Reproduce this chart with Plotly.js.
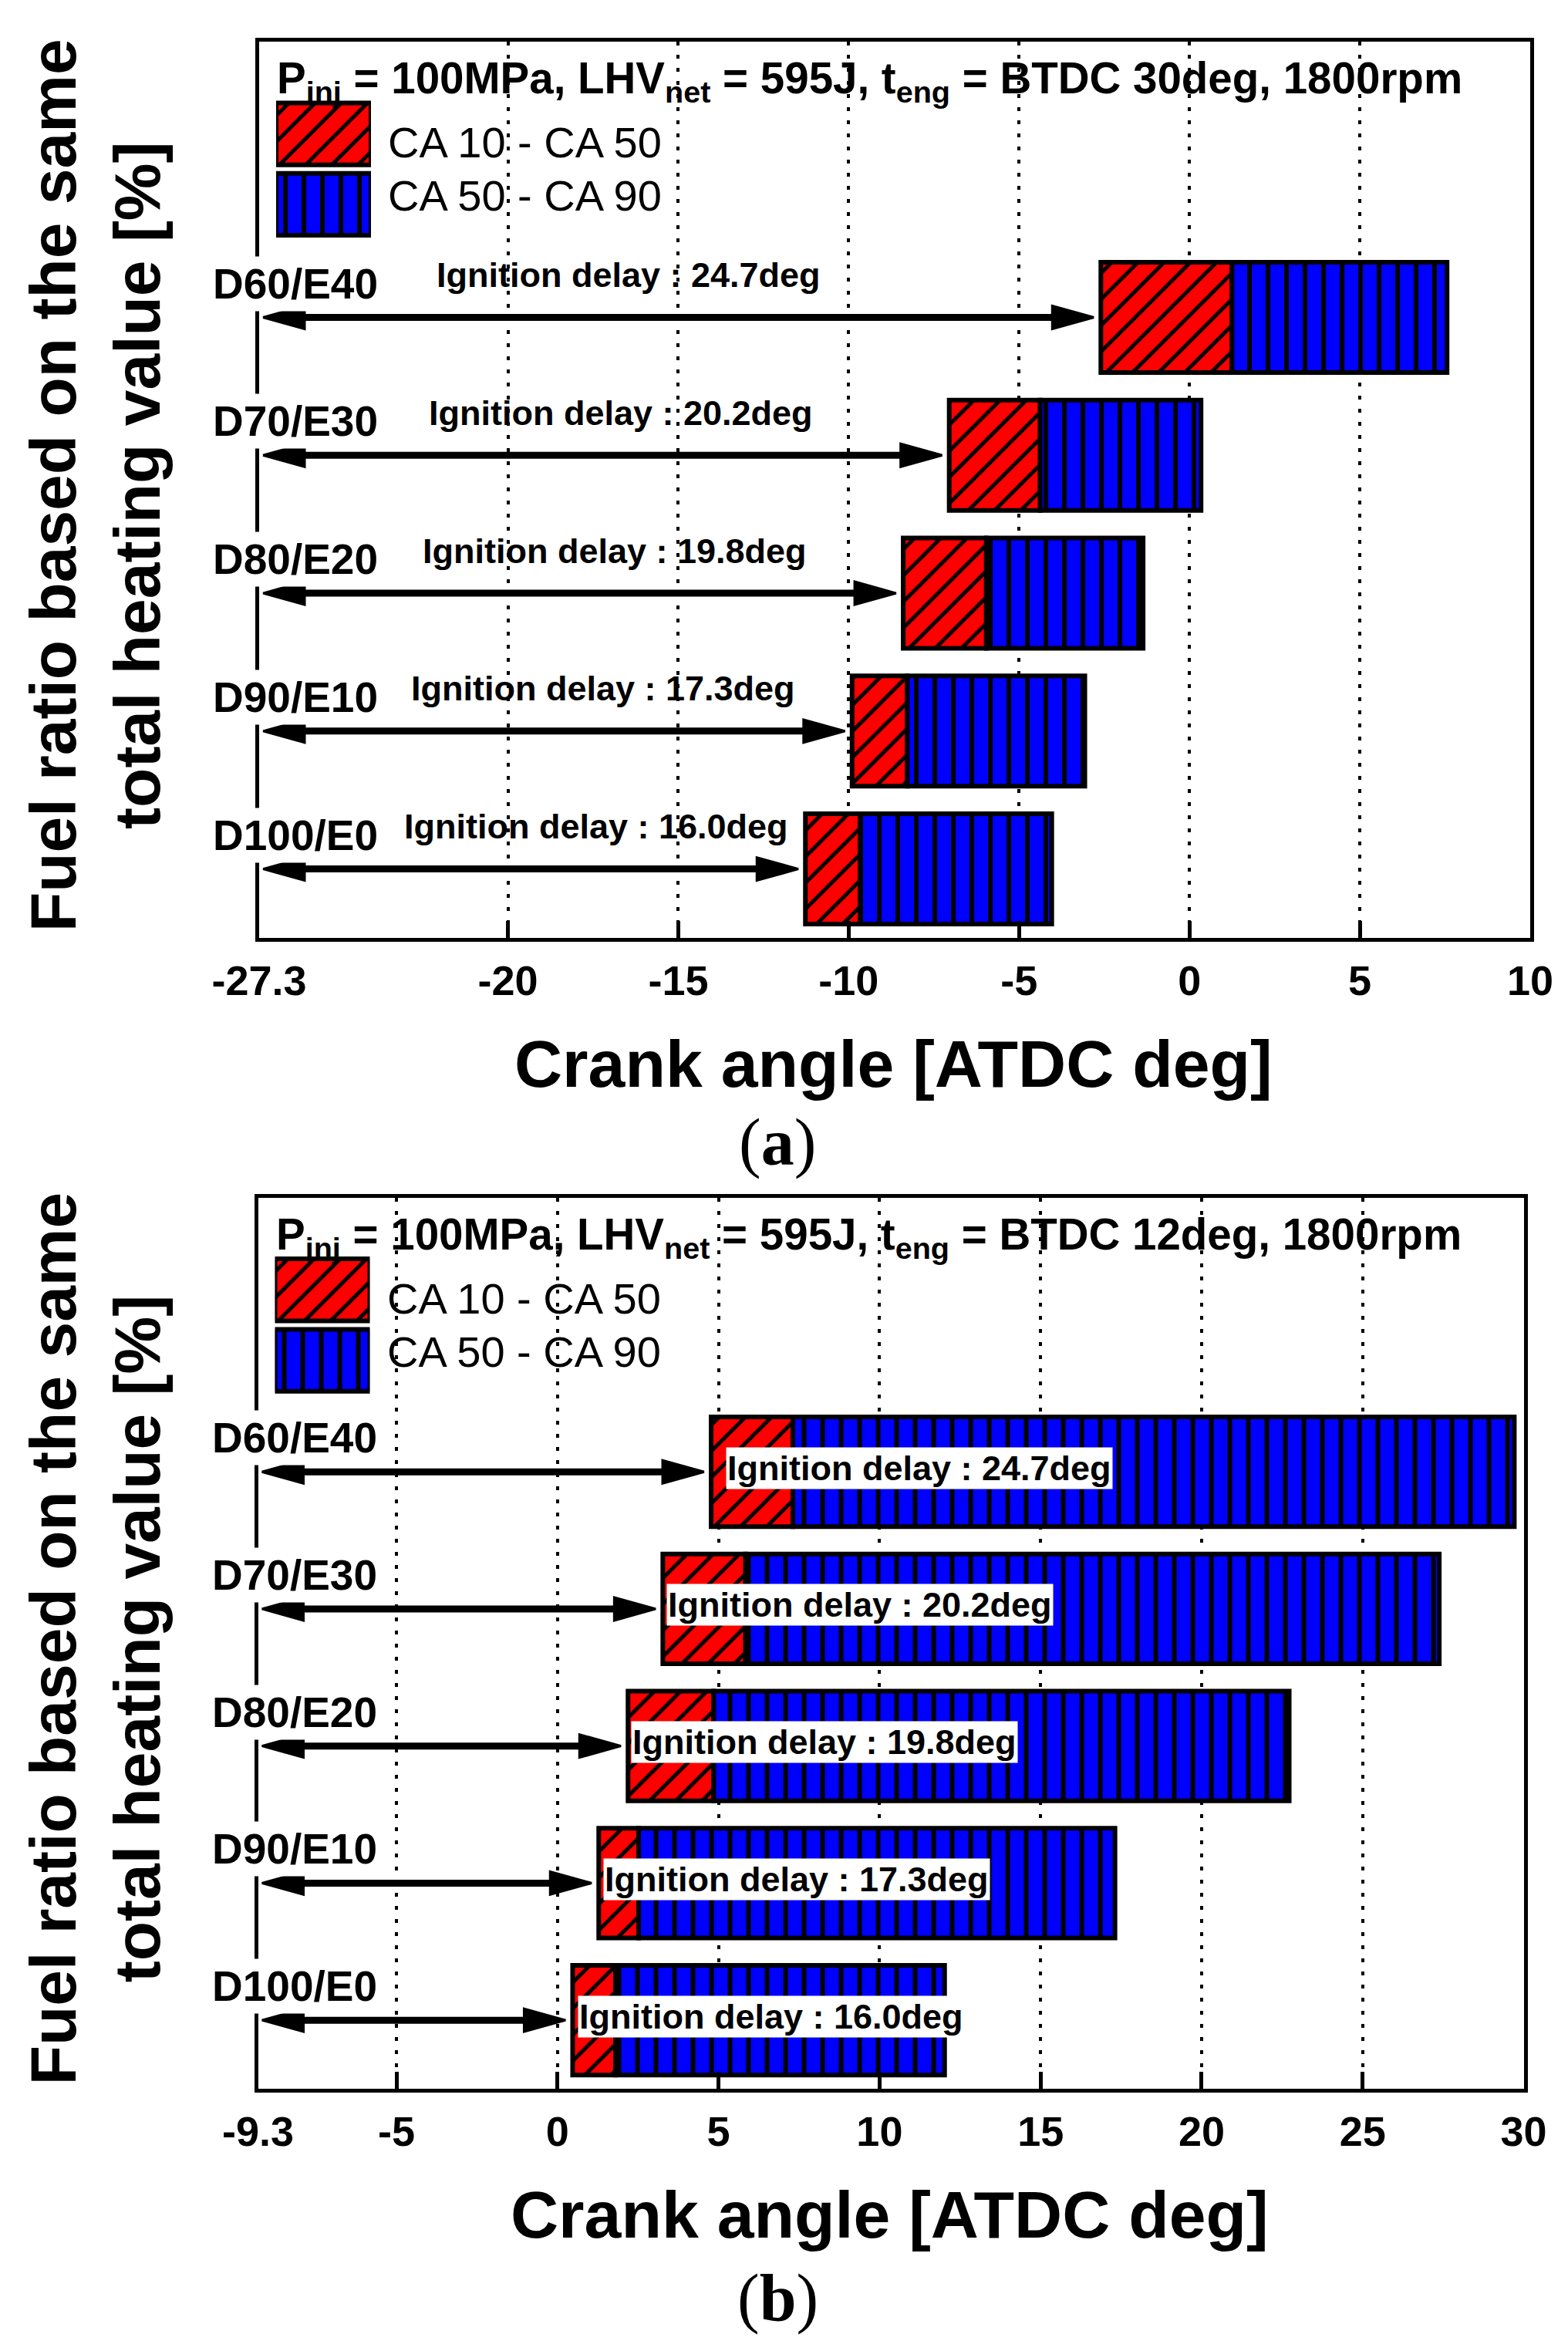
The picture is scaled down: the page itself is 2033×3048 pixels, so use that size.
<!DOCTYPE html>
<html><head><meta charset="utf-8">
<script src="https://cdn.plot.ly/plotly-3.0.1.min.js"></script>
<style>html,body{margin:0;padding:0;background:#fff}</style>
</head><body>
<div id="chart" style="width:2033px;height:3048px"></div>
<script>
// ---------------- data ----------------
const categories = ['D100/E0', 'D90/E10', 'D80/E20', 'D70/E30', 'D60/E40'];
const delayLabels = ['Ignition delay : 16.0deg', 'Ignition delay : 17.3deg', 'Ignition delay : 19.8deg',
                     'Ignition delay : 20.2deg', 'Ignition delay : 24.7deg'];
const legendNames = ['CA 10 - CA 50', 'CA 50 - CA 90'];

// panel (a): t_eng = BTDC 30deg  (crank angle, ATDC deg)
const aCA10 = [-11.27, -9.90, -8.40, -7.05, -2.60];
const aCA50 = [-9.66, -8.28, -5.96, -4.38, 1.25];
const aCA90 = [-4.04, -3.07, -1.36, 0.34, 7.56];
// panel (b): t_eng = BTDC 12deg
const bCA10 = [0.47, 1.28, 2.19, 3.27, 4.77];
const bCA50 = [1.80, 2.52, 4.85, 5.84, 7.31];
const bCA90 = [12.02, 17.31, 22.72, 27.38, 29.71];

const aTickVals = [-27.3, -20, -15, -10, -5, 0, 5, 10];
const aTickText = ['-27.3', '-20', '-15', '-10', '-5', '0', '5', '10'];
const bTickVals = [-9.3, -5, 0, 5, 10, 15, 20, 25, 30];
const bTickText = ['-9.3', '-5', '0', '5', '10', '15', '20', '25', '30'];

const aHeader = 'P<sub>inj</sub> = 100MPa, LHV<sub>net</sub> = 595J, t<sub>eng</sub> = BTDC 30deg, 1800rpm';
const bHeader = 'P<sub>inj</sub> = 100MPa, LHV<sub>net</sub> = 595J, t<sub>eng</sub> = BTDC 12deg, 1800rpm';
const xTitle = 'Crank angle [ATDC deg]';
const yTitle = 'Fuel ratio based on the same<br>total heating value [%]';
const panelTags = ['(<b>a</b>)', '(<b>b</b>)'];

// label placement (layout, in axis units)
const aDelayLabelX = [-17.42, -17.2, -16.87, -16.69, -16.45];
const bDelayLabelX = [0.62, 1.42, 2.29, 3.38, 5.23];

// ---------------- layout geometry (pixels) ----------------
const W = 2033, H = 3048;
const SANS = 'Liberation Sans, Arial, Helvetica, sans-serif';
const SERIF = 'Liberation Serif, Times New Roman, serif';
const RED = '#ff0000', BLUE = '#0000ff';
const panels = [
  {id: '', left: 336, right: 1984, top: 54, bottom: 1216, range: [-27.3, 10],
   tv: aTickVals, tt: aTickText, ca10: aCA10, ca50: aCA50, ca90: aCA90, header: aHeader,
   delayX: aDelayLabelX, inside: false, lx: '3', tag: panelTags[0]},
  {id: '2', left: 334.5, right: 1975.5, top: 1552.7, bottom: 2708, range: [-9.3, 30],
   tv: bTickVals, tt: bTickText, ca10: bCA10, ca50: bCA50, ca90: bCA90, header: bHeader,
   delayX: bDelayLabelX, inside: true, lx: '4', tag: panelTags[1]}
];
const Y_RANGE = [-0.5, 6];
const fx = px => px / W;
const fy = py => 1 - py / H;
const idx = categories.map((c, i) => i);

const traces = [];
const annotations = [];
const layout = {
  width: W, height: H,
  margin: {l: 0, r: 0, t: 0, b: 0},
  paper_bgcolor: '#fff', plot_bgcolor: 'rgba(0,0,0,0)',
  showlegend: false, barmode: 'overlay', hovermode: false,
  font: {family: SANS, color: '#000'},
  annotations: annotations
};

function patt(shape, bg) {
  return shape === '/'
    ? {shape: '/', fgcolor: '#000', bgcolor: bg, size: 24, solidity: 0.21}
    : {shape: '|', fgcolor: '#000', bgcolor: bg, size: 24, solidity: 0.25};
}

panels.forEach((p, k) => {
  const xa = 'x' + p.id, ya = 'y' + p.id;
  const xKey = 'xaxis' + p.id, yKey = 'yaxis' + p.id;
  layout[xKey] = {
    domain: [fx(p.left), fx(p.right)], range: p.range, anchor: ya,
    tickmode: 'array', tickvals: p.tv, ticktext: p.tt,
    ticks: 'inside', ticklen: 22, tickwidth: 5, tickcolor: '#000',
    tickfont: {family: SANS, size: 54, weight: 'bold', color: '#000'},
    ticklabelstandoff: 4,
    showline: true, linewidth: 5, linecolor: '#000', mirror: true,
    showgrid: true, gridcolor: '#000', gridwidth: 4, griddash: '5px,12px',
    zeroline: false, fixedrange: true
  };
  layout[yKey] = {
    domain: [fy(p.bottom), fy(p.top)], range: Y_RANGE, anchor: xa,
    showticklabels: false, ticks: '', showgrid: false, zeroline: false,
    showline: true, linewidth: 5, linecolor: '#000', mirror: true, fixedrange: true
  };

  // stacked bars: CA10->CA50 (red, hatched) and CA50->CA90 (blue, striped)
  traces.push({
    type: 'bar', orientation: 'h', xaxis: xa, yaxis: ya, name: legendNames[0],
    y: idx, base: p.ca10, x: p.ca50.map((v, i) => v - p.ca10[i]), width: 0.8,
    marker: {color: RED, line: {color: '#000', width: 6}, pattern: patt('/', RED)}
  });
  traces.push({
    type: 'bar', orientation: 'h', xaxis: xa, yaxis: ya, name: legendNames[1],
    y: idx, base: p.ca50, x: p.ca90.map((v, i) => v - p.ca50[i]), width: 0.8,
    marker: {color: BLUE, line: {color: '#000', width: 6}, pattern: patt('|', BLUE)}
  });

  // double-headed ignition-delay arrows: from the axis start to CA10
  const ux = (p.right - p.left) / (p.range[1] - p.range[0]);
  const uy = (p.bottom - p.top) / (Y_RANGE[1] - Y_RANGE[0]);
  const hl = 54 / ux, hh = 15 / uy;
  const sx = [], sy = [], hx = [], hy = [];
  p.ca10.forEach((s, i) => {
    const x0 = p.range[0] + 5 / ux, x1 = s - 9 / ux;
    sx.push(x0 + hl * 0.7, x1 - hl * 0.7, null); sy.push(i, i, null);
    hx.push(x0, x0 + hl, x0 + hl, x0, null); hy.push(i, i + hh, i - hh, i, null);
    hx.push(x1, x1 - hl, x1 - hl, x1, null); hy.push(i, i + hh, i - hh, i, null);
  });
  traces.push({type: 'scatter', mode: 'lines', xaxis: xa, yaxis: ya, x: sx, y: sy,
    line: {color: '#000', width: 9}, cliponaxis: false});
  traces.push({type: 'scatter', mode: 'lines', xaxis: xa, yaxis: ya, x: hx, y: hy,
    fill: 'toself', fillcolor: '#000', line: {color: '#000', width: 3, join: 'round'},
    cliponaxis: false});

  // category labels (white background breaks the left axis line)
  categories.forEach((c, i) => {
    annotations.push({
      xref: 'paper', yref: ya, x: fx(p.left - 65), y: i, yshift: 44,
      xanchor: 'left', yanchor: 'middle', showarrow: false, text: c,
      bgcolor: '#fff', borderpad: 4,
      font: {family: SANS, size: 55, weight: 'bold', color: '#000'}
    });
    annotations.push(p.inside ? {
      xref: xa, yref: ya, x: p.delayX[i], y: i, yshift: 5,
      xanchor: 'left', yanchor: 'middle', showarrow: false, text: delayLabels[i],
      bgcolor: '#fff', borderpad: 1,
      font: {family: SANS, size: 45, weight: 'bold', color: '#000'}
    } : {
      xref: xa, yref: ya, x: p.delayX[i], y: i, yshift: 55,
      xanchor: 'center', yanchor: 'middle', showarrow: false, text: delayLabels[i],
      font: {family: SANS, size: 45, weight: 'bold', color: '#000'}
    });
  });

  // in-plot legend: header + hatched swatches on a small helper axis
  annotations.push({
    xref: 'paper', yref: 'paper', x: fx(p.left + 21), y: fy(p.top + 52),
    xanchor: 'left', yanchor: 'middle', showarrow: false, text: p.header,
    font: {family: SANS, size: 56.5, weight: 'bold', color: '#000'}
  });
  const lxa = 'x' + p.lx, lya = 'y' + p.lx;
  const redC = p.top + 131, blueC = p.top + 199.5, unit = blueC - redC;
  layout['xaxis' + p.lx] = {domain: [fx(p.left + 22), fx(p.left + 145)], range: [0, 1],
    anchor: lya, visible: false, fixedrange: true};
  layout['yaxis' + p.lx] = {domain: [fy(blueC + unit * 1.5), fy(redC - unit * 1.5)], range: [-1, 2],
    anchor: lxa, visible: false, fixedrange: true};
  traces.push({type: 'bar', orientation: 'h', xaxis: lxa, yaxis: lya, y: [1], base: [0], x: [1],
    width: 0.88, marker: {color: RED, line: {color: '#000', width: 6}, pattern: patt('/', RED)}});
  traces.push({type: 'bar', orientation: 'h', xaxis: lxa, yaxis: lya, y: [0], base: [0], x: [1],
    width: 0.88, marker: {color: BLUE, line: {color: '#000', width: 6}, pattern: patt('|', BLUE)}});
  [redC, blueC].forEach((cy, j) => annotations.push({
    xref: 'paper', yref: 'paper', x: fx(p.left + 165), y: fy(cy),
    xanchor: 'left', yanchor: 'middle', showarrow: false, text: legendNames[j],
    font: {family: SANS, size: 56, color: '#000'}
  }));

  // axis titles and panel tag
  annotations.push({
    xref: 'paper', yref: 'paper', x: fx((p.left + p.right) / 2 - 2), y: fy(p.bottom + 163),
    xanchor: 'center', yanchor: 'middle', showarrow: false, text: xTitle,
    font: {family: SANS, size: 86, weight: 'bold', color: '#000'}
  });
  annotations.push({
    xref: 'paper', yref: 'paper', x: fx(123), y: fy((p.top + p.bottom) / 2 - 6),
    xanchor: 'center', yanchor: 'middle', showarrow: false, text: yTitle, textangle: -90,
    font: {family: SANS, size: 84, weight: 'bold', color: '#000'}
  });
  annotations.push({
    xref: 'paper', yref: 'paper', x: fx(1008), y: fy(p.bottom + (k === 0 ? 265 : 271)),
    xanchor: 'center', yanchor: 'middle', showarrow: false, text: p.tag,
    font: {family: SERIF, size: 86, color: '#000'}
  });
});

Plotly.newPlot('chart', traces, layout, {displayModeBar: false, staticPlot: true});
</script>
</body></html>
